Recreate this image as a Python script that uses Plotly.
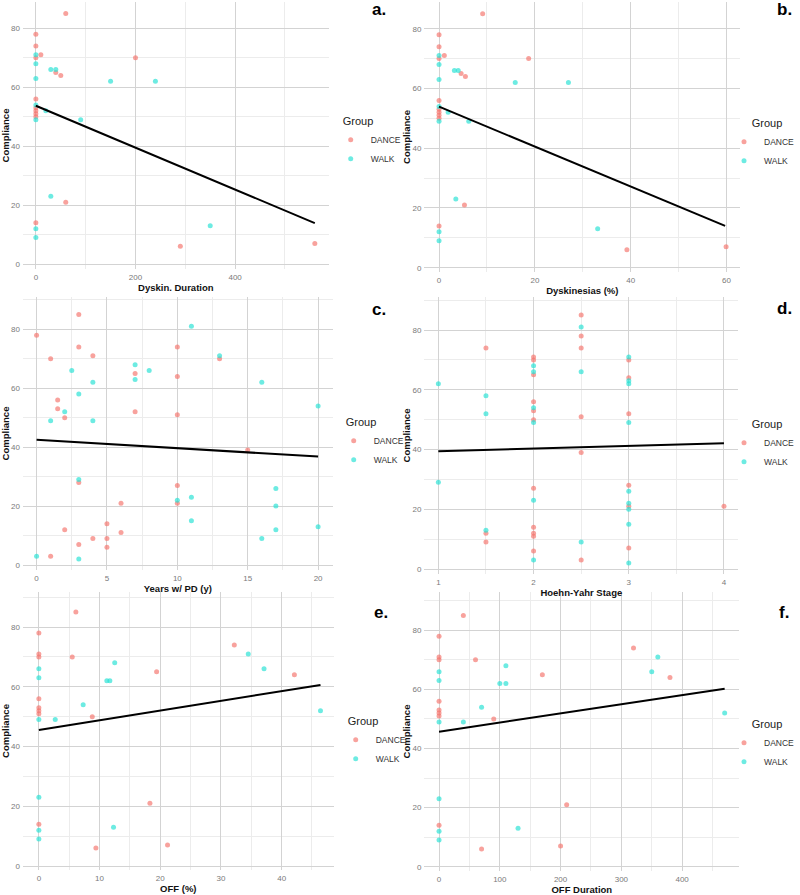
import plotly.graph_objects as go

# ---------------- data ----------------
# Panel a: Dyskin. Duration
a_dance_x = [60, 0, 0, 10, 0, 200, 40, 50, 0, 0, 0, 0, 0, 60, 0, 290, 560]
a_dance_y = [85, 78, 74, 71, 70, 70, 65, 64, 56, 53, 52, 51, 50, 21, 14, 6, 7]
a_walk_x = [0, 0, 30, 40, 150, 240, 0, 0, 20, 90, 0, 30, 0, 0, 350]
a_walk_y = [71, 68, 66, 66, 62, 62, 63, 54, 52, 49, 49, 23, 12, 9, 13]
a_fit_x = [0, 560]
a_fit_y = [53.7, 13.9]

# Panel b: Dyskinesias (%)
b_dance_x = [9.1, 0, 0, 1.1, 0, 18.7, 4.6, 5.5, 0, 0, 0, 0, 0, 5.3, 0, 39.2, 59.9]
b_dance_y = [85, 78, 74, 71, 70, 70, 65, 64, 56, 53, 52, 51, 50, 21, 14, 6, 7]
b_walk_x = [0, 0, 3.2, 4.0, 15.9, 27.0, 0, 0, 1.9, 6.2, 0, 3.5, 0, 0, 33.1]
b_walk_y = [71, 68, 66, 66, 62, 62, 63, 54, 52, 49, 49, 23, 12, 9, 13]
b_fit_x = [0, 59.7]
b_fit_y = [53.9, 14.0]

# Panel c: Years w/ PD (y)
c_dance_x = [3, 0, 3, 1, 4, 7, 10, 10, 13, 1.5, 1.5, 2, 7, 10, 15, 3, 10, 10, 6, 2, 5, 6, 4, 5, 5, 3, 1]
c_dance_y = [85, 78, 74, 70, 71, 65, 74, 64, 70, 56, 53, 50, 52, 51, 39, 28, 27, 21, 21, 12, 14, 11, 9, 9, 6, 7, 3]
c_walk_x = [11, 13, 7, 8, 2.5, 7, 4, 16, 3, 2, 1, 4, 20, 3, 17, 11, 10, 17, 11, 20, 17, 16, 0, 3]
c_walk_y = [81, 71, 68, 66, 66, 63, 62, 62, 58, 52, 49, 49, 54, 29, 26, 23, 22, 20, 15, 13, 12, 9, 3, 2]
c_fit_x = [0, 20]
c_fit_y = [42.5, 36.8]

# Panel d: Hoehn-Yahr Stage
d_dance_x = [1.5, 1.5, 1.5, 2, 2, 2, 2, 2, 2, 2, 2, 2, 2, 2,
             2.5, 2.5, 2.5, 2.5, 2.5, 2.5, 3, 3, 3, 3, 3, 3, 4]
d_dance_y = [74, 12, 9, 71, 70, 65, 56, 53, 50, 27, 14, 12, 11, 6,
             85, 78, 74, 51, 39, 3, 70, 64, 52, 28, 21, 7, 21]
d_walk_x = [1, 1, 1.5, 1.5, 1.5, 2, 2, 2, 2, 2, 2, 2.5, 2.5, 2.5,
            3, 3, 3, 3, 3, 3, 3, 3, 3]
d_walk_y = [62, 29, 58, 52, 13, 68, 66, 54, 49, 23, 3, 81, 66, 9,
            71, 63, 62, 49, 26, 22, 20, 15, 2]
d_fit_x = [1, 4]
d_fit_y = [39.4, 42.1]

# Panel e: OFF (%)
e_dance_x = [6.1, 0, 0, 0, 5.5, 19.4, 32.2, 42.1, 0, 0, 0, 0, 8.8, 18.3, 0, 9.4, 21.2]
e_dance_y = [85, 78, 71, 70, 70, 65, 74, 64, 56, 53, 52, 51, 50, 21, 14, 6, 7]
e_walk_x = [0, 0, 0, 0, 0, 0, 12.5, 11.2, 11.7, 7.3, 2.7, 34.5, 37.1, 46.4, 12.3]
e_walk_y = [66, 63, 49, 23, 12, 9, 68, 62, 62, 54, 49, 71, 66, 52, 13]
e_fit_x = [0, 46.4]
e_fit_y = [45.5, 60.6]

# Panel f: OFF Duration
f_dance_x = [40, 0, 0, 0, 60, 170, 320, 380, 0, 0, 0, 0, 90, 210, 0, 70, 200]
f_dance_y = [85, 78, 71, 70, 70, 65, 74, 64, 56, 53, 52, 51, 50, 21, 14, 6, 7]
f_walk_x = [0, 0, 0, 0, 0, 0, 110, 100, 110, 70, 40, 360, 350, 470, 130]
f_walk_y = [66, 63, 49, 23, 12, 9, 68, 62, 62, 54, 49, 71, 66, 52, 13]
f_fit_x = [0, 470]
f_fit_y = [45.7, 60.2]

panel_labels = ["a.", "b.", "c.", "d.", "e.", "f."]
x_titles = ["Dyskin. Duration", "Dyskinesias (%)", "Years w/ PD (y)",
            "Hoehn-Yahr Stage", "OFF (%)", "OFF Duration"]
y_title = "Compliance"
group_names = ["DANCE", "WALK"]

# ---------------- layout geometry (pixels) ----------------
W, H = 800, 895
FONT = "Liberation Sans, Arial, sans-serif"
DANCE_COLOR = "rgba(245,118,110,0.68)"
WALK_COLOR = "rgba(40,225,212,0.68)"

panels = [
    dict(dx=a_dance_x, dy=a_dance_y, wx=a_walk_x, wy=a_walk_y, fx=a_fit_x, fy=a_fit_y,
         xpx=(23, 330), ypx=(2, 269), xcal=(36, 0, 236, 400), ycal=(264, 0, 28.3, 80),
         dtick=200, minor=100, leg=(342, 111), tside="top", lab=(380, 10)),
    dict(dx=b_dance_x, dy=b_dance_y, wx=b_walk_x, wy=b_walk_y, fx=b_fit_x, fy=b_fit_y,
         xpx=(426, 743), ypx=(2, 272), xcal=(440.7, 0, 729.3, 60), ycal=(267.7, 0, 28.7, 80),
         dtick=20, minor=10, leg=(737, 113), tside="top center", lab=(787, 10)),
    dict(dx=c_dance_x, dy=c_dance_y, wx=c_walk_x, wy=c_walk_y, fx=c_fit_x, fy=c_fit_y,
         xpx=(23, 334), ypx=(297, 570), xcal=(36.7, 0, 319.3, 20), ycal=(565, 0, 329.3, 80),
         dtick=5, minor=2.5, leg=(345, 412), tside="top", lab=(380, 309)),
    dict(dx=d_dance_x, dy=d_dance_y, wx=d_walk_x, wy=d_walk_y, fx=d_fit_x, fy=d_fit_y,
         xpx=(426, 741), ypx=(297, 574), xcal=(440, 1, 726.7, 4), ycal=(569, 0, 330, 80),
         dtick=1, minor=0.5, leg=(737, 414), tside="top center", lab=(787, 308)),
    dict(dx=e_dance_x, dy=e_dance_y, wx=e_walk_x, wy=e_walk_y, fx=e_fit_x, fy=e_fit_y,
         xpx=(23, 335), ypx=(592, 870), xcal=(39, 0, 282.7, 40), ycal=(866, 0, 627, 80),
         dtick=10, minor=5, leg=(347, 711), tside="top", lab=(382, 612)),
    dict(dx=f_dance_x, dy=f_dance_y, wx=f_walk_x, wy=f_walk_y, fx=f_fit_x, fy=f_fit_y,
         xpx=(426, 742), ypx=(592, 871), xcal=(440.7, 0, 684.7, 400), ycal=(866.7, 0, 630.3, 80),
         dtick=100, minor=50, leg=(737, 714), tside="top center", lab=(787, 612)),
]


def cal_range(p0, p1, cal):
    pa, va, pb, vb = cal
    s = (pb - pa) / (vb - va)
    return [va + (p0 - pa) / s, va + (p1 - pa) / s]


fig = go.Figure()
annotations = []

for i, p in enumerate(panels):
    n = i + 1
    sfx = "" if n == 1 else str(n)
    xa, ya = "x" + sfx, "y" + sfx
    legname = "legend" + sfx

    fig.add_trace(go.Scatter(
        x=p["dx"], y=p["dy"], mode="markers", name=group_names[0],
        marker=dict(size=5, color=DANCE_COLOR, line=dict(width=0)),
        xaxis=xa, yaxis=ya, legend=legname, showlegend=True))
    fig.add_trace(go.Scatter(
        x=p["wx"], y=p["wy"], mode="markers", name=group_names[1],
        marker=dict(size=5, color=WALK_COLOR, line=dict(width=0)),
        xaxis=xa, yaxis=ya, legend=legname, showlegend=True))
    fig.add_trace(go.Scatter(
        x=p["fx"], y=p["fy"], mode="lines", line=dict(color="black", width=2),
        xaxis=xa, yaxis=ya, showlegend=False, hoverinfo="skip"))

    x0, x1 = p["xpx"]
    yt, yb = p["ypx"]
    xdom = [x0 / W, x1 / W]
    ydom = [1 - yb / H, 1 - yt / H]
    xr = cal_range(x0, x1, p["xcal"])
    yr = cal_range(yb, yt, p["ycal"])

    common = dict(
        showline=False, zeroline=False, showgrid=True,
        gridcolor="#d3d3d3", gridwidth=1,
        ticks="", tickfont=dict(family=FONT, size=8, color="#7a7a7a"),
    )
    fig.update_layout({
        "xaxis" + sfx: dict(
            domain=xdom, range=xr, anchor=ya, dtick=p["dtick"], tick0=0,
            minor=dict(dtick=p["minor"], showgrid=True, gridcolor="#ececec", gridwidth=1),
            title=dict(text="<b>" + x_titles[i] + "</b>",
                       font=dict(family=FONT, size=9.5, color="#111"), standoff=3),
            ticklabelstandoff=2,
            **common),
        "yaxis" + sfx: dict(
            domain=ydom, range=yr, anchor=xa, dtick=20, tick0=0,
            minor=dict(dtick=10, showgrid=True, gridcolor="#ececec", gridwidth=1),
            title=dict(text="<b>" + y_title + "</b>",
                       font=dict(family=FONT, size=9.5, color="#111"), standoff=0),
            ticklabelstandoff=2,
            **common),
        legname: dict(
            x=p["leg"][0] / W, y=1 - p["leg"][1] / H, xanchor="left", yanchor="top",
            title=dict(text="Group", side=p["tside"],
                       font=dict(family=FONT, size=11, color="#222")),
            font=dict(family=FONT, size=8.5, color="#333"),
            bgcolor="rgba(0,0,0,0)", itemsizing="trace", tracegroupgap=0,
            itemwidth=30, indentation=-10),
    })

    annotations.append(dict(
        x=p["lab"][0] / W, y=1 - p["lab"][1] / H, xref="paper", yref="paper",
        text="<b>" + panel_labels[i] + "</b>", showarrow=False,
        xanchor="center", yanchor="middle",
        font=dict(family=FONT, size=17, color="black")))

fig.update_layout(
    width=W, height=H,
    margin=dict(l=0, r=0, t=0, b=0),
    paper_bgcolor="white", plot_bgcolor="white",
    font=dict(family=FONT),
    annotations=annotations,
)

fig.write_html("out.html")
